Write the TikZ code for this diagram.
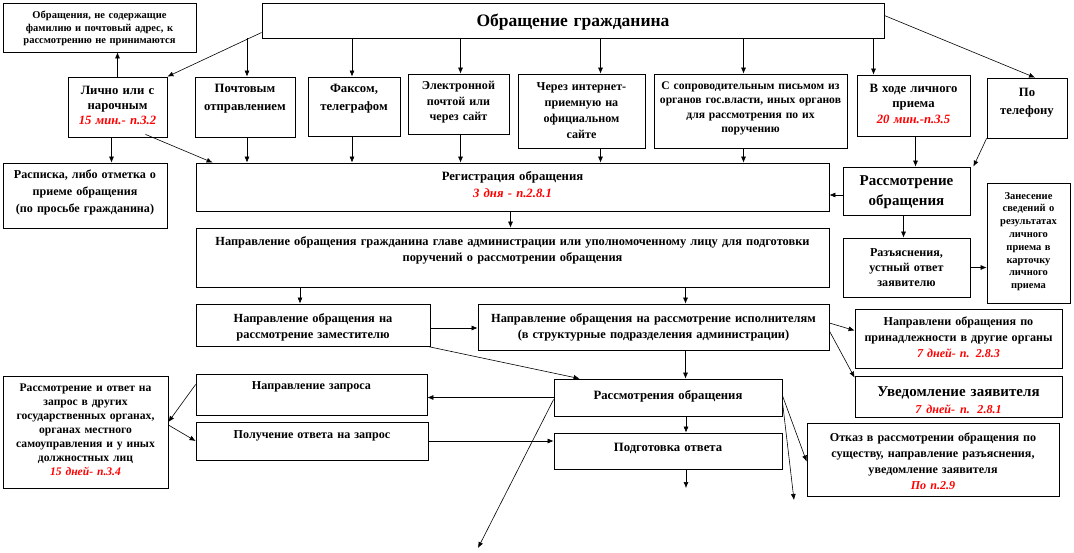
\documentclass[tikz,border=0pt]{standalone}
\usepackage{fontspec}
\setmainfont{Liberation Serif}
\usetikzlibrary{arrows.meta,calc}
\tikzset{
 box/.style={draw, line width=0.8pt, inner sep=0pt, fill=white},
 txt/.style={inner sep=0pt, align=center},
 arr/.style={-{Latex[length=6pt,width=5pt]}, line width=0.6pt},
}
\newcommand\rd[1]{\textcolor{red}{\itshape #1}}
\newcommand\bx[9]{%
 \pgfmathsetmacro\bxw{#4-#2}\pgfmathsetmacro\bxh{#5-#3}%
 \pgfmathsetmacro\bxx{(#2+#4)/2}\pgfmathsetmacro\bxy{-(#3+#5)/2}%
 \pgfmathsetmacro\bxt{#4-#2-2}\pgfmathsetmacro\bxp{#6+2}%
 \node[box, minimum width=\bxw pt, minimum height=\bxh pt] (#1) at (\bxx,\bxy) {};
 \node[txt, text width=\bxt pt, anchor=north, font={\bfseries\fontsize{#7}{#8}\selectfont}] (#1-t) at ([yshift=-\bxp pt]#1.north) {#9};}
\begin{document}
\begin{tikzpicture}[x=1pt,y=1pt]
\useasboundingbox (0,0) rectangle (1074,-552);
\bx{top}{262}{3}{884}{38}{9}{17.5}{20}{Обращение гражданина}
\bx{obr0}{3}{3}{196}{52}{6.5}{10.5}{12.5}{Обращения, не содержащие\\ фамилию и почтовый адрес, к\\ рассмотрению не принимаются}
\bx{lichno}{68}{77}{167}{137}{7}{12.7}{15}{Лично или с\\ нарочным\\ \rd{15 мин.- п.3.2}}
\bx{pocht}{195}{77}{295}{137}{5}{12.7}{18}{Почтовым\\ отправлением}
\bx{faks}{308}{77}{400}{136}{5}{12.7}{18}{Факсом,\\ телеграфом}
\bx{email}{408}{74}{509}{134}{5.6}{12.1}{15.5}{Электронной\\ почтой или\\ через сайт}
\bx{cherez}{518}{74}{645}{148}{6.6}{12.1}{16}{Через интернет-\\ приемную на\\ официальном\\ сайте}
\bx{soprov}{654}{74}{847}{148}{6}{11.6}{14.5}{С сопроводительным письмом из\\ органов гос.власти, иных органов\\ для рассмотрения по их\\ поручению}
\bx{vhode}{857}{75}{970}{136}{7}{12.7}{15.5}{В ходе личного\\ приема\\ \rd{20 мин.-п.3.5}}
\bx{tel}{987}{78}{1067}{138}{8}{12.7}{18}{По\\ телефону}
\bx{rasp}{3}{163}{167}{228}{4.6}{12.1}{17}{Расписка, либо отметка о\\ приеме обращения\\ (по просьбе гражданина)}
\bx{reg}{196}{163}{829}{211}{6.3}{12.7}{17}{Регистрация обращения\\ \rd{3 дня - п.2.8.1}}
\bx{rassm}{843}{167}{970}{215}{6.5}{15}{20}{Рассмотрение\\ обращения}
\bx{zanes}{987}{183}{1070}{303}{7.3}{10.5}{12.8}{Занесение\\ сведений о\\ результатах\\ личного\\ приема в\\ карточку\\ личного\\ приема}
\bx{razyas}{843}{238}{970}{297}{8.6}{12.1}{15}{Разъяснения,\\ устный ответ\\ заявителю}
\bx{napgr}{196}{228}{829}{287}{6.6}{12.4}{16}{Направление обращения гражданина главе администрации или уполномоченному лицу для подготовки\\ поручений о рассмотрении обращения}
\bx{napzam}{196}{304}{430}{346}{7.4}{12.4}{16}{Направление обращения на\\ рассмотрение заместителю}
\bx{napisp}{478}{304}{829}{350}{7.4}{12.4}{16}{Направление обращения на рассмотрение исполнителям\\ (в структурные подразделения администрации)}
\bx{prinad}{855}{309}{1062}{368}{5.8}{12.1}{16}{Направлени обращения по\\ принадлежности в другие органы\\ \rd{7 дней- п. 2.8.3}}
\bx{uved}{855}{376}{1062}{417}{8.5}{15}{17}{Уведомление заявителя\\ \fontsize{12.1}{15}\selectfont\rd{7 дней- п. 2.8.1}}
\bx{otv}{3}{376}{168}{488}{6.2}{11.6}{14}{Рассмотрение и ответ на\\ запрос в других\\ государственных органах,\\ органах местного\\ самоуправления и у иных\\ должностных лиц\\ \rd{15 дней- п.3.4}}
\bx{zapros}{196}{374}{427}{415}{5.6}{12.1}{16}{Направление запроса}
\bx{poluch}{196}{422}{428}{460}{6.6}{12.1}{16}{Получение ответа на запрос}
\bx{rassmo}{554}{379}{782}{416}{9.3}{12.7}{16}{Рассмотрения обращения}
\bx{podg}{554}{433}{782}{469}{8.8}{12.7}{16}{Подготовка ответа}
\bx{otkaz}{807}{423}{1059}{496}{7.8}{12.1}{16}{Отказ в рассмотрении обращения по\\ существу, направление разъяснения,\\ уведомление заявителя\\ \rd{По п.2.9}}
\coordinate (e1) at (686,-488);
\coordinate (e2) at (478,-548);
\coordinate (e3) at (794,-500);
% top connections
\draw[arr] ([yshift=-12]top.west) -- (lichno.north east);
\draw[arr] (lichno.north) -- (lichno.north |- obr0.south);
\draw[arr] ([xshift=2]pocht.north |- top.south) -- ([xshift=2]pocht.north);
\draw[arr] ([xshift=-2]faks.north |- top.south) -- ([xshift=-2]faks.north);
\draw[arr] ([xshift=2]email.north |- top.south) -- ([xshift=2]email.north);
\draw[arr] ([xshift=19]cherez.north |- top.south) -- ([xshift=19]cherez.north);
\draw[arr] ([xshift=-7]soprov.north |- top.south) -- ([xshift=-7]soprov.north);
\draw[arr] ([xshift=-40]vhode.north |- top.south) -- ([xshift=-40]vhode.north);
\draw[arr] ([yshift=5]top.east) -- ([xshift=8]tel.north);
% second row to registration
\draw[arr] ([xshift=-6]lichno.south) -- ([xshift=-6]lichno.south |- rasp.north);
\draw[arr] ([xshift=28,yshift=3]lichno.south) -- ([xshift=17]reg.north west);
\draw[arr] ([xshift=2]pocht.south) -- ([xshift=2]pocht.south |- reg.north);
\draw[arr] ([xshift=-2]faks.south) -- ([xshift=-2]faks.south |- reg.north);
\draw[arr] ([xshift=2]email.south) -- ([xshift=2]email.south |- reg.north);
\draw[arr] ([xshift=19]cherez.south) -- ([xshift=19]cherez.south |- reg.north);
\draw[arr] ([xshift=-7]soprov.south) -- ([xshift=-7]soprov.south |- reg.north);
\draw[arr] ([xshift=2]vhode.south) -- ([xshift=2]vhode.south |- rassm.north);
\draw[arr] (tel.south west) -- ([xshift=3]rassm.north east);
\draw[arr] ([yshift=-4]rassm.west) -- ([yshift=-4]rassm.west -| reg.east);
\draw[arr] ([xshift=-3]rassm.south) -- ([xshift=-3]rassm.south |- razyas.north);
\draw[arr] (razyas.east) -- (razyas.east -| zanes.west);
% main flow
\draw[arr] ([xshift=-2]reg.south) -- ([xshift=-2]reg.south |- napgr.north);
\draw[arr] ([xshift=-13]napzam.north |- napgr.south) -- ([xshift=-13]napzam.north);
\draw[arr] ([xshift=32]napisp.north |- napgr.south) -- ([xshift=32]napisp.north);
\draw[arr] ([yshift=-3]napzam.east) -- ([yshift=-3]napzam.east -| napisp.west);
\draw[arr] ([xshift=-3]napzam.south east) -- ([xshift=26]rassmo.north west);
\draw[arr] ([xshift=32]napisp.south) -- ([xshift=32]napisp.south |- rassmo.north);
\draw[arr] ([yshift=4]napisp.east) -- ([yshift=8]prinad.west);
\draw[arr] ([yshift=-4]napisp.east) -- ([yshift=-2]uved.north west);
\draw[arr] (rassmo.west) -- (rassmo.west -| zapros.east);
\draw[arr] ([yshift=10]zapros.west) -- ([yshift=10]otv.east);
\draw[arr] ([yshift=7]otv.east) -- (poluch.west);
\draw[arr] (poluch.east) -- (poluch.east -| podg.west);
\draw[arr] ([xshift=18]rassmo.south) -- ([xshift=18]rassmo.south |- podg.north);
\draw[arr] ([xshift=18]podg.south) -- (e1);
\draw[arr] ([yshift=-2]rassmo.west) -- (e2);
\draw[arr] ([yshift=-4]rassmo.east) -- (e3);
\draw[arr] ([yshift=2]rassmo.east) -- ([yshift=-2]otkaz.west);
\end{tikzpicture}
\end{document}
